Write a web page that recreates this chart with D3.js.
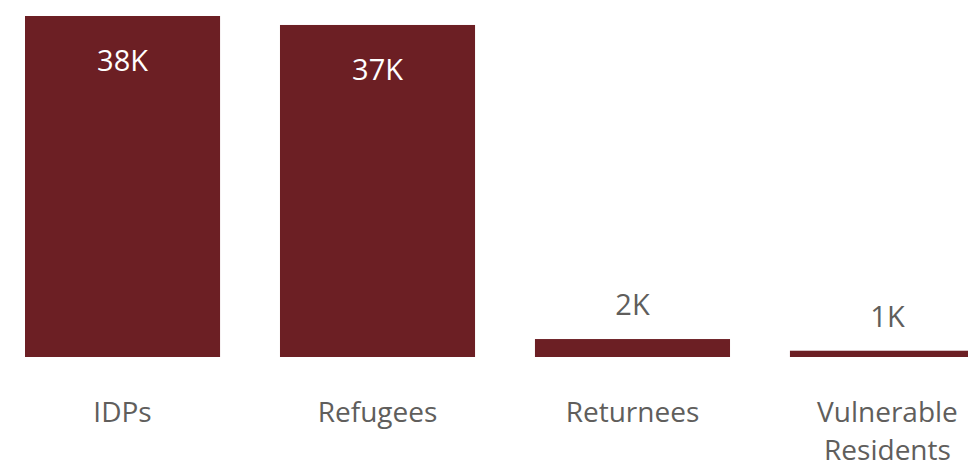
<!DOCTYPE html>
<html>
<head>
<meta charset="utf-8">
<script src="https://cdn.jsdelivr.net/npm/d3@7"></script>
<style>
	body { margin: 0; background: #fff; }
	svg { display: block; font-family: 'Segoe UI', 'Open Sans', sans-serif; }
</style>
</head>
<body>
<script>
// data
var categories = ['IDPs', 'Refugees', 'Returnees', 'Vulnerable Residents'];
var people = [38000, 37000, 2000, 700];
var labels = ['38K', '37K', '2K', '1K'];

var dataset = categories.map(function (c, i) {
	return { category: c, value: people[i], label: labels[i] };
});

// chart
var width = 968;
var height = 467;
var baseline = 357;

var svg = d3.select('body')
	.append('svg')
	.attr('width', width)
	.attr('height', height);

var x = d3.scaleBand()
	.domain(categories)
	.range([25, 985])
	.paddingInner(0.235)
	.paddingOuter(0);

var y = d3.scaleLinear()
	.domain([0, 38000])
	.range([baseline, 16]);

svg.selectAll('rect.bar')
	.data(dataset)
	.enter()
	.append('rect')
	.attr('class', 'bar')
	.attr('x', function (d) { return x(d.category); })
	.attr('y', function (d) { return y(d.value); })
	.attr('width', x.bandwidth())
	.attr('height', function (d) { return baseline - y(d.value); })
	.attr('fill', '#6c1f24');

// value labels: inside for tall bars, above for short ones
function inside (d) { return baseline - y(d.value) > 60; }

svg.selectAll('text.value')
	.data(dataset)
	.enter()
	.append('text')
	.attr('class', 'value')
	.attr('x', function (d) { return x(d.category) + x.bandwidth() / 2; })
	.attr('y', function (d) {
		return inside(d) ? y(d.value) + 55 : y(d.value) - 24;
	})
	.attr('text-anchor', 'middle')
	.attr('font-size', '29px')
	.attr('fill', function (d) { return inside(d) ? '#ffffff' : '#605e5c'; })
	.text(function (d) { return d.label; });

// category axis (text only)
var cat = svg.selectAll('text.cat')
	.data(dataset)
	.enter()
	.append('text')
	.attr('class', 'cat')
	.attr('x', function (d) { return x(d.category) + x.bandwidth() / 2; })
	.attr('y', 422)
	.attr('text-anchor', 'middle')
	.attr('font-size', '28px')
	.attr('fill', '#605e5c');

cat.selectAll('tspan')
	.data(function (d) {
		return d.category.split(' ').map(function (w) { return { word: w, cx: x(d.category) + x.bandwidth() / 2 }; });
	})
	.enter()
	.append('tspan')
	.attr('x', function (w) { return w.cx; })
	.attr('dy', function (w, i) { return i === 0 ? 0 : 38; })
	.text(function (w) { return w.word; });
</script>
</body>
</html>
